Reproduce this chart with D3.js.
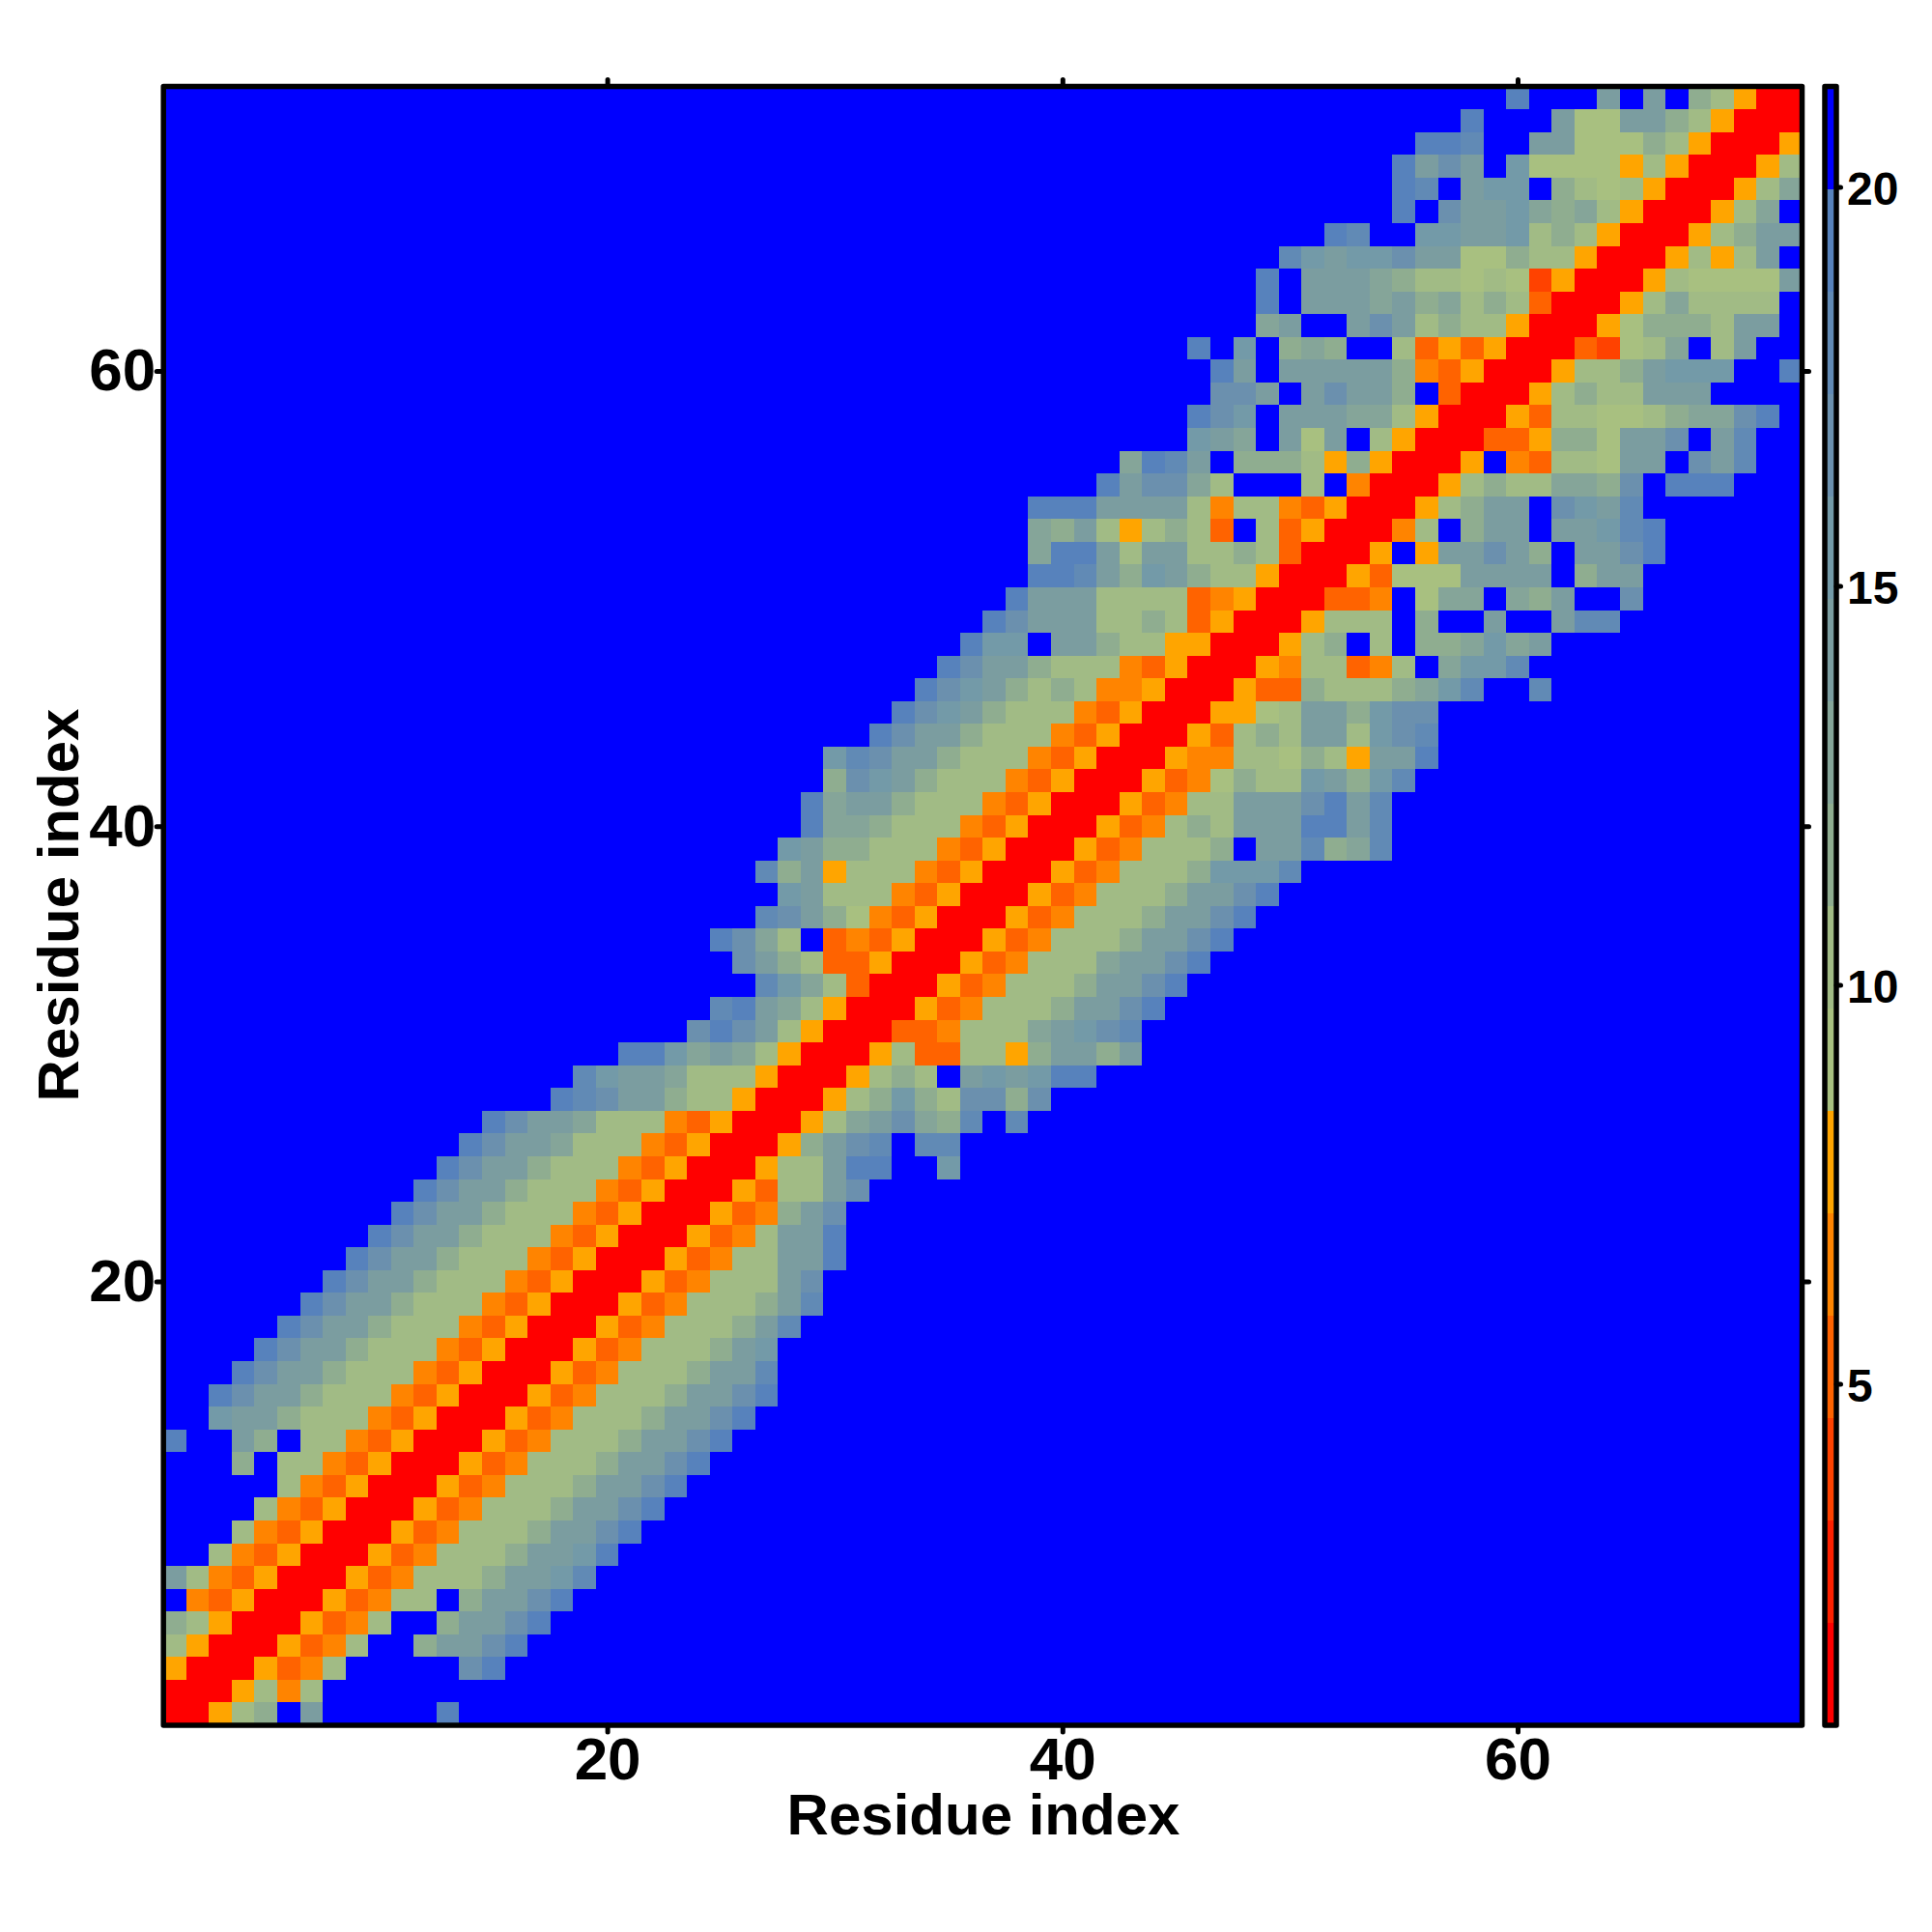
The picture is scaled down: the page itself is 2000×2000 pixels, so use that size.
<!DOCTYPE html>
<html>
<head>
<meta charset="utf-8">
<script src="https://cdn.jsdelivr.net/npm/d3@7"></script>
<style>
html,body{margin:0;padding:0;background:#fff}
svg{display:block}
text{font-family:"Liberation Sans",Arial,sans-serif;font-weight:bold;fill:#000}
</style>
</head>
<body>
<div id="chart"></div>
<script>
const residueCount = 72;
const axisTicks = [20, 40, 60];
const barTicks = [5, 10, 15, 20];
const axisTitle = "Residue index";

// colour levels of the scale, bottom to top
const palette = ["#ff0000","#ff2100","#ff4200","#ff6300","#ff8400","#ffa500",
  "#a8c080","#a1bb85","#8fad90","#85a599","#7b9da0","#739aa8","#6b90ae","#618ab5","#5782bc","#0000ff"];
const barMin = 0.72, barMax = 21.257;

// distance value represented by each code 0-f
const levelValues = [1.4,2.6,3.9,5.2,6.5,7.8,9.1,10.3,11.6,12.9,14.2,15.5,16.8,18.0,19.3,20.6];

// first residue (x) with data on each row, row = residue 1..72 (y)
const rowStarts = [
 1,1,1,1,1,1,1,3,4,5,
 6,4,1,3,3,4,5,6,7,8,
 9,10,11,12,13,14,15,18,19,21,
 24,25,27,26,25,27,28,27,28,29,
 29,30,30,32,33,34,35,36,37,38,
 39,39,39,39,42,43,46,46,47,47,
 46,49,49,49,50,52,55,55,55,56,
 58,60];

// level code per residue from that start; everything else is level f
const rowCodes = [
 "00578fafffffe",
 "0005747",
 "50005347fffffce",
 "750005347ff8aace",
 "8750005347ff8aace",
 "f43500053477f8aace",
 "a74350005347778aabd",
 "74350005347778aabe",
 "74350005347778aace",
 "74350005347778aace",
 "74350005347778aace",
 "8f774350005347778aace",
 "effa8f774350005347778aace",
 "baa87774350005347778aace",
 "ecaa87774350005347778aace",
 "ecaa87774350005347778aad",
 "ecaa87774350005347778ab",
 "ecaa87774350005347778ad",
 "ecaa87774350005347778ad",
 "ecaa8777435000534777ac",
 "ecaa877743500053477aae",
 "ecaa87774350005347aae",
 "ecaa87774350005348ac",
 "ecaa87774350005377ac",
 "ecaa8777435000577aeeffb",
 "ecaa977743500058acdfdd",
 "ecaa9777435000579ac98dfd",
 "edcaa8775000578b87cc8c",
 "dbaa97775000578" + "7fababee",
 "eeb9a97500057337758aa8a",
 "ceca750003347779abcd",
 "dea9750005347778aace",
 "db9730005347778aace",
 "ca873350005347779aace",
 "ec97f34350005347778aace",
 "dca864350005347778aace",
 "ba7774350005347778aace",
 "d8a57774350005347778bbbd",
 "ba887774350005347778faad89d",
 "e998777435000534787aaaeead",
 "e9aa877743500053477aaacead",
 "8cba87774350005346877ba8bd",
 "bdcaa8777435000544776875aae",
 "ecaa877743500053787aa7bcd",
 "ecba87774350005567aa8bcc",
 "ecba8787445000533877789bdffd",
 "ecaa87774350005477347f9bbd",
 "ebbfaa87755000578f7f889b9a",
 "ecaaa7787350005777f8ffaffadd",
 "eaaa7777345000334f699f98affc",
 "eeda8ba877500053666aaaaf8aa",
 "9eea7aa778730005f5aaca8faace",
 "98a757873f73500047f8aafaabde",
 "eeeaaaa7477435000578aafcbad",
 "eacc97fff7f40005787799" + "8cfeee",
 "9edaf888758500" + "05f43776aafcad",
 "ba9fa6af7500033588" + "6aacfad",
 "ecbfaaa99750005377667899ce",
 "ccafacaa8f300057877aaa",
 "eafaaaaa84350005778abbbffe",
 "efbf898ff7353500032679f7aff",
 "9affaca78775000568887aaf",
 "efaaa9a8978730005797777f",
 "efaaa987767625000576666a",
 "dbabbcaa6687750005757af",
 "edffbbaab7875000578aa",
 "efcaab98975000579f",
 "edfabbf87675000579",
 "eacafb666657500057",
 "eedffaa6668750005",
 "efffa66aa875000",
 "efffafaf87500"
];

const W = 2000, H = 2000;
const svg = d3.select("#chart").append("svg").attr("width", W).attr("height", H);
svg.append("rect").attr("width", W).attr("height", H).attr("fill", "#fff");

const x = d3.scaleLinear().domain([0.5, residueCount + 0.5]).range([169.2, 1865.5]);
const y = d3.scaleLinear().domain([0.5, residueCount + 0.5]).range([1786, 89.6]);

const step = (barMax - barMin) / palette.length;
const breaks = d3.range(1, palette.length).map(i => barMin + i * step);
const color = d3.scaleThreshold().domain(breaks).range(palette);
const barY = d3.scaleLinear().domain([barMin, barMax]).range([1786, 89.6]);

// cells
const cells = [];
for (let r = 1; r <= residueCount; r++) {
  const start = rowStarts[r - 1], codes = rowCodes[r - 1];
  for (let c = 1; c <= residueCount; c++) {
    const ch = (c >= start && c - start < codes.length) ? codes[c - start] : "f";
    cells.push({ c, r, v: levelValues[parseInt(ch, 16)] });
  }
}
svg.append("g").attr("shape-rendering", "crispEdges").selectAll("rect").data(cells).join("rect")
  .attr("x", d => x(d.c - 0.5))
  .attr("y", d => y(d.r + 0.5))
  .attr("width", d => x(d.c + 0.5) - x(d.c - 0.5))
  .attr("height", d => y(d.r - 0.5) - y(d.r + 0.5))
  .attr("fill", d => color(d.v));

// axes
function style(g, fontSize) {
  g.select(".domain").remove();
  g.selectAll(".tick line").attr("stroke", "#000").attr("stroke-width", 5).attr("stroke-linecap", "round");
  g.selectAll("text").attr("font-size", fontSize).attr("fill", "#000");
}
const tick = 7;
const bottomAxis = svg.append("g").attr("transform", `translate(0,${y.range()[0]})`)
  .call(d3.axisBottom(x).tickValues(axisTicks).tickSize(tick).tickPadding(5).tickFormat(d3.format("d")))
  .call(style, 62);
const leftAxis = svg.append("g").attr("transform", `translate(${x.range()[0]},0)`)
  .call(d3.axisLeft(y).tickValues(axisTicks).tickSize(tick).tickPadding(1).tickFormat(d3.format("d")))
  .call(style, 62);
svg.append("g").attr("transform", `translate(0,${y.range()[1]})`)
  .call(d3.axisTop(x).tickValues(axisTicks).tickSize(tick).tickFormat(""))
  .call(style, 62);
svg.append("g").attr("transform", `translate(${x.range()[1]},0)`)
  .call(d3.axisRight(y).tickValues(axisTicks).tickSize(tick).tickFormat(""))
  .call(style, 62);
[bottomAxis, leftAxis].forEach(g => g.attr("font-family", null));

// frame
svg.append("rect")
  .attr("x", x.range()[0]).attr("y", y.range()[1])
  .attr("width", x.range()[1] - x.range()[0]).attr("height", y.range()[0] - y.range()[1])
  .attr("fill", "none").attr("stroke", "#000").attr("stroke-width", 5.5).attr("stroke-linejoin", "round");

// titles
svg.append("text").attr("x", 1018).attr("y", 1899).attr("text-anchor", "middle").attr("font-size", 60).text(axisTitle);
svg.append("text").attr("transform", "translate(81,937) rotate(-90)").attr("text-anchor", "middle").attr("font-size", 60).text(axisTitle);

// colour bar
const barX0 = 1889, barX1 = 1901;
const edges = [barMin, ...breaks, barMax];
svg.append("g").attr("shape-rendering", "crispEdges").selectAll("rect").data(d3.range(palette.length)).join("rect")
  .attr("x", barX0).attr("width", barX1 - barX0)
  .attr("y", i => barY(edges[i + 1]))
  .attr("height", i => barY(edges[i]) - barY(edges[i + 1]))
  .attr("fill", i => palette[i]);
svg.append("g").attr("transform", `translate(${barX1},0)`)
  .call(d3.axisRight(barY).tickValues(barTicks).tickSize(4.5).tickPadding(6.5).tickFormat(d3.format("d")))
  .call(style, 48)
  .call(g => g.attr("font-family", null).selectAll("text").attr("dy", "0.38em"));
svg.append("rect")
  .attr("x", barX0).attr("y", barY.range()[1])
  .attr("width", barX1 - barX0).attr("height", barY.range()[0] - barY.range()[1])
  .attr("fill", "none").attr("stroke", "#000").attr("stroke-width", 5.5).attr("stroke-linejoin", "round");
</script>
</body>
</html>
